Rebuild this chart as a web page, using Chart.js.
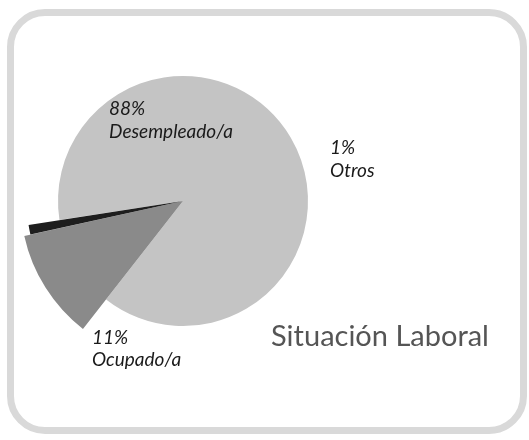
<!DOCTYPE html>
<html>
<head>
<meta charset="utf-8">
<script src="https://cdn.jsdelivr.net/npm/chart.js@4/dist/chart.umd.min.js"></script>
<style>
  html, body { margin: 0; padding: 0; background: #fff; }
  #wrap { position: relative; width: 529px; height: 440px; overflow: hidden; }
  #frame {
    position: absolute; left: 7px; top: 9px; width: 506px; height: 411px;
    border: 7px solid #d9d9d9; border-radius: 38px; background: #fff;
  }
  #pie { position: absolute; left: 0; top: 0; }
  .lbl { position: absolute; font-family: Lato, "Open Sans", sans-serif; font-style: italic;
         font-size: 19px; line-height: 19px; color: #1a1a1a; white-space: nowrap; }
  #title { position: absolute; font-family: Lato, "Open Sans", sans-serif; font-size: 29px;
           line-height: 29px; color: #555; left: 271px; top: 320px; white-space: nowrap; }
</style>
</head>
<body>
<div id="wrap">
  <div id="frame"></div>
  <canvas id="pie" width="529" height="440"></canvas>
  <div class="lbl" style="left:109px; top:98px;">88%</div>
  <div class="lbl" style="left:109px; top:121px;">Desempleado/a</div>
  <div class="lbl" style="left:330px; top:137px;">1%</div>
  <div class="lbl" style="left:330px; top:160px;">Otros</div>
  <div class="lbl" style="left:92px; top:327px;">11%</div>
  <div class="lbl" style="left:92px; top:349px;">Ocupado/a</div>
  <div id="title">Situación Laboral</div>
</div>
<script>
// ---------------- Data ----------------
const categories = ["Desempleado/a", "Ocupado/a", "Otros"];
const percentages = [88, 11, 1];

// ---------------- Style ----------------
const sliceColors = ["#c4c4c4", "#8a8a8a", "#1e1e1e"];
const radiusScale = [1, 1.3, 1.25]; // wedges stick out of the disc

// stretch each arc's outer radius after layout
const stretchArcs = {
  id: "stretchArcs",
  afterDatasetUpdate(chart, args) {
    const meta = chart.getDatasetMeta(args.index);
    meta.data.forEach((arc, i) => {
      arc.outerRadius = arc.outerRadius * (radiusScale[i] ?? 1);
    });
  }
};

new Chart(document.getElementById("pie"), {
  type: "pie",
  data: {
    labels: categories,
    datasets: [{
      data: percentages,
      backgroundColor: sliceColors,
      borderWidth: 0,
      clip: false
    }]
  },
  options: {
    responsive: false,
    animation: false,
    events: [],
    rotation: -98.8,
    layout: { padding: { left: 58, right: 221, top: 76, bottom: 114 } },
    plugins: { legend: { display: false }, tooltip: { enabled: false } }
  },
  plugins: [stretchArcs]
});
</script>
</body>
</html>
